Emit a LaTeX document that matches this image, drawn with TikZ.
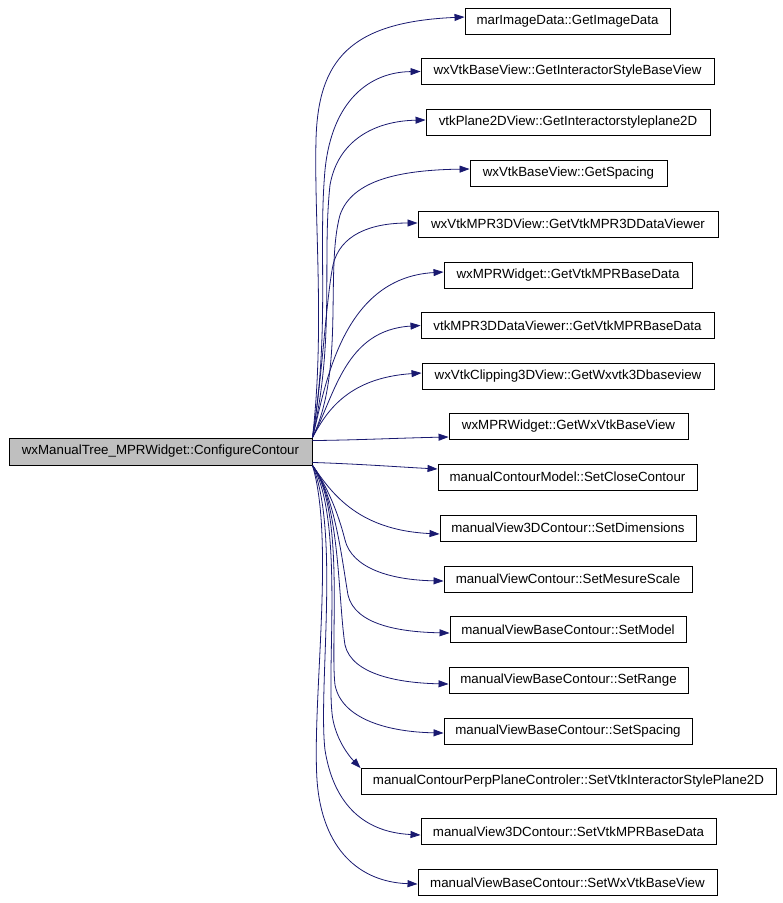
\documentclass[tikz,border=0pt]{standalone}
\usepackage{fontspec}
\setmainfont{Liberation Sans}
\usetikzlibrary{arrows.meta}
\definecolor{edgecol}{HTML}{191970}
\definecolor{rootfill}{HTML}{BFBFBF}
\tikzset{
  box/.style={draw=black, line width=0.9pt, fill=white, inner sep=0pt, minimum height=26pt,
    font=\fontsize{13.3}{16}\selectfont},
  rootbox/.style={box, fill=rootfill},
  edge/.style={draw=edgecol, line width=0.8pt, -{Triangle[length=10pt,width=7pt]}}
}
\begin{document}
\begin{tikzpicture}[x=1pt,y=-1pt]
\useasboundingbox (0,0) rectangle (783,903);
\node[rootbox, minimum width=303pt, minimum height=27pt] (root) at (160.5,451.5) {wxManualTree\_MPRWidget::ConfigureContour};
\node[box, minimum width=205pt] (t1) at (567.5,21) {marImageData::GetImageData};
\node[box, minimum width=293pt] (t2) at (567.5,71.5) {wxVtkBaseView::GetInteractorStyleBaseView};
\node[box, minimum width=284pt] (t3) at (568,122.5) {vtkPlane2DView::GetInteractorstyleplane2D};
\node[box, minimum width=197pt] (t4) at (568.5,173) {wxVtkBaseView::GetSpacing};
\node[box, minimum width=300pt] (t5) at (568,224) {wxVtkMPR3DView::GetVtkMPR3DDataViewer};
\node[box, minimum width=248pt] (t6) at (568,275) {wxMPRWidget::GetVtkMPRBaseData};
\node[box, minimum width=293pt] (t7) at (567.5,325.5) {vtkMPR3DDataViewer::GetVtkMPRBaseData};
\node[box, minimum width=292pt] (t8) at (568,376) {wxVtkClipping3DView::GetWxvtk3Dbaseview};
\node[box, minimum width=239pt] (t9) at (568.5,426.5) {wxMPRWidget::GetWxVtkBaseView};
\node[box, minimum width=259pt] (t10) at (567.5,477) {manualContourModel::SetCloseContour};
\node[box, minimum width=256pt] (t11) at (568,528) {manualView3DContour::SetDimensions};
\node[box, minimum width=248pt] (t12) at (568,579) {manualViewContour::SetMesureScale};
\node[box, minimum width=236pt] (t13) at (568,629.5) {manualViewBaseContour::SetModel};
\node[box, minimum width=239pt] (t14) at (568.5,680) {manualViewBaseContour::SetRange};
\node[box, minimum width=248pt] (t15) at (568,731) {manualViewBaseContour::SetSpacing};
\node[box, minimum width=415pt] (t16) at (568.5,781.5) {manualContourPerpPlaneControler::SetVtkInteractorStylePlane2D};
\node[box, minimum width=295pt] (t17) at (568.5,831.5) {manualView3DContour::SetVtkMPRBaseData};
\node[box, minimum width=299pt] (t18) at (567.5,882.5) {manualViewBaseContour::SetWxVtkBaseView};
% upward edges
\draw[edge] (root.north east) .. controls (325,330) and (314,220) .. (316,140) .. controls (318,60) and (350,22) .. ([yshift=4pt]t1.west);
\draw[edge] (root.north east) .. controls (330,330) and (318,250) .. (325,170) .. controls (332,100) and (370,72) .. (t2.west);
\draw[edge] (root.north east) .. controls (335,340) and (322,260) .. (330,185) .. controls (338,140) and (375,121) .. ([yshift=2.5pt]t3.west);
\draw[edge] (root.north east) .. controls (345,370) and (325,270) .. (340,215) .. controls (352,180) and (400,170) .. ([yshift=4pt]t4.west);
\draw[edge] (root.north east) .. controls (322,380) and (326,300) .. (333,265) .. controls (340,235) and (370,223) .. ([yshift=1pt]t5.west);
\draw[edge] (root.north east) .. controls (325,390) and (340,278) .. ([yshift=3pt]t6.west);
\draw[edge] (root.north east) .. controls (335,395) and (345,330) .. (t7.west);
\draw[edge] (root.north east) .. controls (325,415) and (345,378) .. ([yshift=3pt]t8.west);
% near-horizontal edges
\draw[edge] ([yshift=-3pt]root.north east) .. controls (360,440) and (400,438) .. ([yshift=-10.5pt]t9.west);
\draw[edge] ([yshift=3pt]root.south east) .. controls (360,464) and (400,467) .. ([yshift=8pt]t10.west);
% downward edges
\draw[edge] (root.south east) .. controls (330,490) and (355,530) .. ([yshift=-6pt]t11.west);
\draw[edge] (root.south east) .. controls (330,490) and (340,520) .. (345,540) .. controls (352,568) and (390,580) .. ([yshift=-2pt]t12.west);
\draw[edge] (root.south east) .. controls (335,495) and (342,560) .. (348,595) .. controls (355,625) and (400,632) .. ([yshift=-3.5pt]t13.west);
\draw[edge] (root.south east) .. controls (340,500) and (338,600) .. (345,645) .. controls (352,675) and (400,683) .. ([yshift=-4pt]t14.west);
\draw[edge] (root.south east) .. controls (345,510) and (330,640) .. (335,685) .. controls (342,720) and (390,732) .. ([yshift=-2pt]t15.west);
\draw[edge] (root.south east) .. controls (345,520) and (325,680) .. (333,720) .. controls (337,740) and (348,755) .. (t16.north west);
\draw[edge] (root.south east) .. controls (340,530) and (318,690) .. (325,750) .. controls (333,800) and (360,832) .. ([yshift=-3.5pt]t17.west);
\draw[edge] (root.south east) .. controls (335,540) and (312,700) .. (317,780) .. controls (322,850) and (360,882) .. ([yshift=-1.5pt]t18.west);
\end{tikzpicture}
\end{document}
